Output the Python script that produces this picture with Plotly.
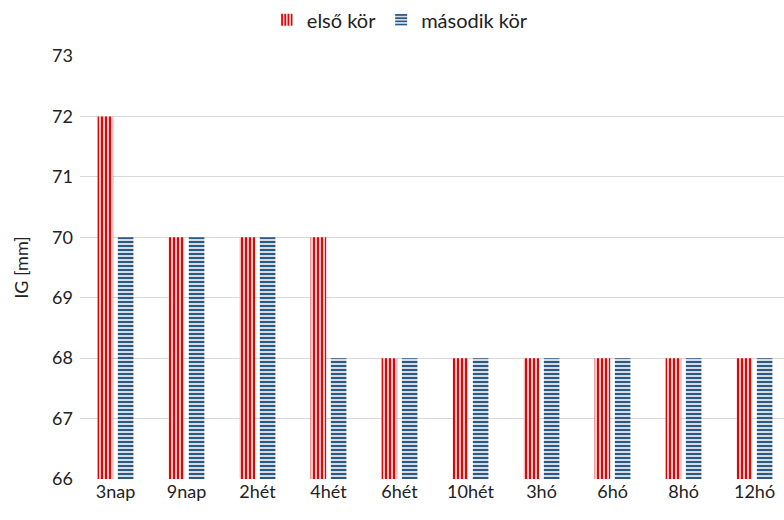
import plotly.graph_objects as go

categories = ["3nap", "9nap", "2hét", "4hét", "6hét", "10hét", "3hó", "6hó", "8hó", "12hó"]
first_round = [72, 70, 70, 70, 68, 68, 68, 68, 68, 68]
second_round = [70, 70, 70, 68, 68, 68, 68, 68, 68, 68]
y_ticks = [66, 67, 68, 69, 70, 71, 72, 73]

font_family = "Lato, Open Sans, sans-serif"

fig = go.Figure()
fig.add_trace(go.Bar(
    name="első kör", x=categories, y=first_round,
    marker=dict(color="#ffffff", line=dict(width=0),
                pattern=dict(shape="|", fgcolor="#d50a0a", bgcolor="#ffffff",
                             fgopacity=1, fillmode="replace",
                             size=4, solidity=0.62)),
))
fig.add_trace(go.Bar(
    name="második kör", x=categories, y=second_round,
    marker=dict(color="#ffffff", line=dict(width=0),
                pattern=dict(shape="-", fgcolor="#2b5885", bgcolor="#ffffff",
                             fgopacity=1, fillmode="replace",
                             size=4, solidity=0.6)),
))

fig.update_layout(
    width=784, height=520,
    margin=dict(l=80, r=0, t=56, b=41),
    paper_bgcolor="white", plot_bgcolor="white",
    barmode="group", bargap=0.43, bargroupgap=0.23,
    font=dict(family=font_family, size=18, color="#222222"),
    showlegend=True,
    legend=dict(orientation="h", xref="container", x=0.51, xanchor="center",
                yref="container", y=0.962, yanchor="middle",
                font=dict(size=20), traceorder="normal", itemwidth=30),
    xaxis=dict(range=[-0.5, 9.415], showgrid=False, showline=False, ticks="",
               tickfont=dict(size=18)),
    yaxis=dict(range=[66, 73], tickvals=y_ticks, showgrid=True, gridcolor="#d9d9d9",
               gridwidth=1, zeroline=False, showline=False, ticks="",
               tickfont=dict(size=18), ticklabelstandoff=6,
               title=dict(text="IG [mm]", font=dict(size=18), standoff=18)),
)

fig.write_html("out.html")
